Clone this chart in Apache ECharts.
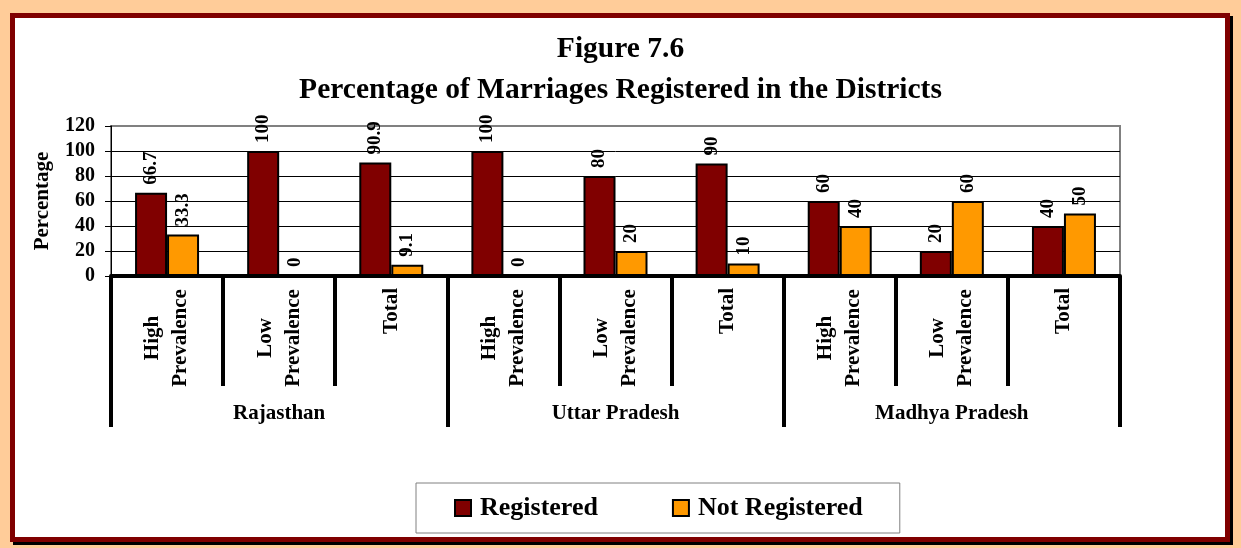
<!DOCTYPE html>
<html>
<head>
<meta charset="utf-8">
<script src="https://cdn.jsdelivr.net/npm/echarts@6/dist/echarts.min.js"></script>
<style>
  html, body { margin: 0; padding: 0; background: #FFCC99; width: 1241px; height: 548px; overflow: hidden; }
  #frame { position: absolute; left: 10px; top: 13px; width: 1220px; height: 529px; box-sizing: border-box;
           border: 5px solid #800000; background: #ffffff; box-shadow: 3px 3px 0 #000000; }
  #chart { position: absolute; left: 0; top: 0; width: 1241px; height: 548px; }
</style>
</head>
<body>
<div id="frame"></div>
<div id="chart"></div>
<script>
const categories = ['High\nPrevalence', 'Low\nPrevalence', 'Total',
                    'High\nPrevalence', 'Low\nPrevalence', 'Total',
                    'High\nPrevalence', 'Low\nPrevalence', 'Total'];
const states = ['Rajasthan', 'Uttar Pradesh', 'Madhya Pradesh'];
const registered = [66.7, 100, 90.9, 100, 80, 90, 60, 20, 40];
const notRegistered = [33.3, 0, 9.1, 0, 20, 10, 40, 60, 50];
const yTicks = [0, 20, 40, 60, 80, 100, 120];

const FONT = '"Liberation Serif", "Times New Roman", serif';
const chart = echarts.init(document.getElementById('chart'), null, { renderer: 'canvas' });

const barLabel = {
  show: true, position: 'top', rotate: 90, align: 'left', verticalAlign: 'middle',
  distance: 8, fontFamily: FONT, fontWeight: 'bold', fontSize: 19, color: '#000'
};

chart.setOption({
  backgroundColor: 'transparent',
  animation: false,
  title: {
    text: 'Figure 7.6\nPercentage of Marriages Registered in the Districts',
    left: 'center', top: 24,
    textStyle: { fontFamily: FONT, fontWeight: 'bold', fontSize: 29.5, lineHeight: 41, color: '#000' }
  },
  legend: {
    data: ['Registered', 'Not Registered'],
    left: 416, top: 483,
    padding: [12, 37, 12, 38],
    itemGap: 74, itemWidth: 16, itemHeight: 16,
    icon: 'rect',
    backgroundColor: '#fff', borderColor: '#808080', borderWidth: 1,
    itemStyle: { borderColor: '#000', borderWidth: 2 },
    textStyle: { fontFamily: FONT, fontWeight: 'bold', fontSize: 26, color: '#000', padding: [0, 0, 0, 4] }
  },
  grid: {
    left: 111, right: 121, top: 126, bottom: 272,
    show: true, borderColor: '#808080', borderWidth: 2, backgroundColor: 'transparent'
  },
  xAxis: [
    {
      type: 'category', data: categories, position: 'bottom',
      axisLine: { show: true, lineStyle: { color: '#000', width: 4 } },
      axisTick: { show: true, interval: 0, length: 110, lineStyle: { color: '#000', width: 4 } },
      axisLabel: {
        interval: 0, rotate: 90, margin: 12, color: '#000',
        fontFamily: FONT, fontWeight: 'bold', fontSize: 21,
        formatter: function (v) {
          if (v.indexOf('\n') >= 0) {
            return v.split('\n').map(function (s) { return '{c|' + s + '}'; }).join('\n');
          }
          return v;
        },
        rich: { c: { width: 100, align: 'center', fontFamily: FONT, fontWeight: 'bold', fontSize: 21, lineHeight: 28, color: '#000' } }
      },
      splitLine: { show: false }
    },
    {
      type: 'category', data: states, position: 'bottom', gridIndex: 0,
      axisLine: { show: false },
      axisTick: { show: true, interval: 0, length: 151, lineStyle: { color: '#000', width: 4 } },
      axisLabel: { interval: 0, margin: 127, color: '#000', fontFamily: FONT, fontWeight: 'bold', fontSize: 21 },
      splitLine: { show: false }
    }
  ],
  yAxis: {
    type: 'value', min: yTicks[0], max: yTicks[yTicks.length - 1], interval: 20,
    name: 'Percentage', nameLocation: 'middle', nameGap: 58,
    nameTextStyle: { fontFamily: FONT, fontWeight: 'bold', fontSize: 21, color: '#000' },
    axisLine: { show: true, lineStyle: { color: '#000', width: 1 } },
    axisTick: { show: true, length: 6, lineStyle: { color: '#000', width: 1 } },
    axisLabel: { margin: 16, color: '#000', fontFamily: FONT, fontWeight: 'bold', fontSize: 20 },
    splitLine: { show: true, lineStyle: { color: ['#000', '#000', '#000', '#000', '#000', '#000', '#808080'], width: 1 } }
  },
  series: [
    {
      name: 'Registered', type: 'bar', data: registered, barWidth: 32, barGap: '0%',
      itemStyle: { color: '#800000', borderColor: '#000', borderWidth: 2 },
      label: barLabel
    },
    {
      name: 'Not Registered', type: 'bar', data: notRegistered, barWidth: 32, barGap: '0%',
      itemStyle: { color: '#FF9900', borderColor: '#000', borderWidth: 2 },
      label: barLabel
    }
  ]
});
</script>
</body>
</html>
